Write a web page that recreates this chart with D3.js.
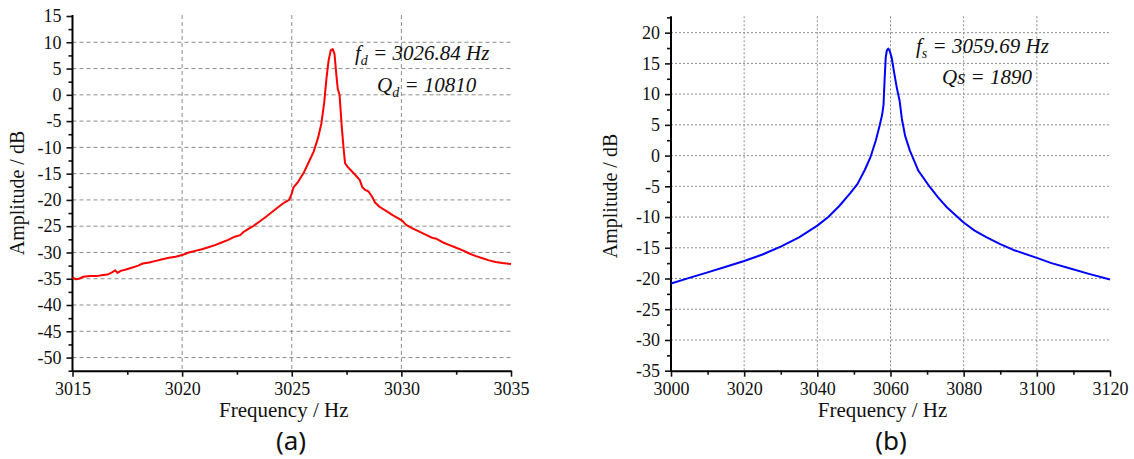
<!DOCTYPE html>
<html>
<head>
<meta charset="utf-8">
<script src="https://cdn.jsdelivr.net/npm/d3@7"></script>
<style>
  body { margin: 0; background: #fff; }
  svg text { font-family: "Liberation Serif", "Times New Roman", serif; fill: #111; }
</style>
</head>
<body>
<svg id="chart" width="1134" height="459"></svg>
<script>
// (a) drive mode
const driveFreq = [3015.00, 3015.15, 3015.30, 3015.50, 3015.80, 3016.10, 3016.40, 3016.60, 3016.80, 3016.95,
  3017.05, 3017.20, 3017.40, 3017.70, 3018.00, 3018.20, 3018.50, 3018.80, 3019.10, 3019.40,
  3019.70, 3020.00, 3020.30, 3020.60, 3020.90, 3021.20, 3021.50, 3021.80, 3022.10, 3022.40,
  3022.65, 3022.80, 3022.95, 3023.20, 3023.50, 3023.80, 3024.10, 3024.40, 3024.70, 3024.88,
  3025.00, 3025.08, 3025.30, 3025.55, 3025.80, 3026.00, 3026.20, 3026.35, 3026.48, 3026.58,
  3026.68, 3026.78, 3026.87, 3026.95, 3027.03, 3027.10, 3027.18, 3027.28, 3027.36, 3027.43,
  3027.55, 3027.75, 3027.95, 3028.10, 3028.22, 3028.35, 3028.50, 3028.65, 3028.80, 3029.00,
  3029.30, 3029.60, 3029.90, 3030.05, 3030.20, 3030.50, 3030.80, 3031.10, 3031.40, 3031.60,
  3031.90, 3032.20, 3032.50, 3032.80, 3033.10, 3033.40, 3033.70, 3034.00, 3034.30, 3034.60,
  3034.80, 3035.00];
const driveAmp = [-34.8, -35.1, -35.0, -34.6, -34.5, -34.5, -34.3, -34.2, -33.8, -33.4,
  -33.9, -33.5, -33.3, -32.9, -32.5, -32.1, -31.9, -31.6, -31.3, -31.0,
  -30.8, -30.5, -30.0, -29.7, -29.4, -29.0, -28.6, -28.1, -27.6, -27.0,
  -26.7, -26.1, -25.7, -25.1, -24.2, -23.3, -22.3, -21.3, -20.4, -20.0,
  -18.8, -17.6, -16.5, -14.8, -12.6, -10.8, -8.2, -5.5, -1.5, 3.0,
  6.5, 8.5, 8.7, 7.8, 4.0, 1.1, 0.0, -6.0, -10.0, -13.0,
  -13.7, -14.6, -15.5, -16.2, -17.6, -18.1, -18.4, -19.3, -20.5, -21.3,
  -22.1, -22.9, -23.6, -24.0, -24.7, -25.4, -26.0, -26.6, -27.2, -27.4,
  -28.1, -28.6, -29.1, -29.6, -30.2, -30.7, -31.1, -31.5, -31.8, -32.0,
  -32.1, -32.2];

// (b) sense mode
const senseFreq = [3000, 3005, 3010, 3015, 3020, 3025, 3030, 3035, 3040, 3043,
  3046, 3049, 3051, 3053, 3054.5, 3056, 3057, 3057.7, 3058.1, 3058.4,
  3058.7, 3059.0, 3059.4, 3059.8, 3060.3, 3061, 3061.7, 3062.5, 3063.1, 3064,
  3065.3, 3067.6, 3070.8, 3073, 3075.4, 3079.9, 3083, 3086.3, 3090, 3093.6,
  3100, 3104, 3108.2, 3114, 3120];
const senseAmp = [-20.8, -19.9, -19.0, -18.1, -17.15, -16.1, -14.8, -13.3, -11.4, -10.0,
  -8.2, -6.1, -4.6, -2.3, -0.3, 2.5, 4.8, 6.6, 8.3, 12.5,
  16.0, 17.1, 17.4, 17.0, 16.0, 13.5, 11.1, 8.9, 6.0, 3.2,
  0.8, -2.45, -5.15, -6.8, -8.4, -10.85, -12.2, -13.3, -14.4, -15.35,
  -16.65, -17.5, -18.2, -19.2, -20.15];

const xTicksA = [3015, 3020, 3025, 3030, 3035];
const yTicksA = [15, 10, 5, 0, -5, -10, -15, -20, -25, -30, -35, -40, -45, -50];
const xTicksB = [3000, 3020, 3040, 3060, 3080, 3100, 3120];
const yTicksB = [20, 15, 10, 5, 0, -5, -10, -15, -20, -25, -30, -35];

const svg = d3.select('#chart');
const serif = '"Liberation Serif", "Times New Roman", serif';

function drawPanel(p) {
  const x = d3.scaleLinear().domain(p.xDomain).range([p.left, p.right]);
  const y = d3.scaleLinear().domain(p.yDomain).range([p.bottom, p.top]);
  const g = svg.append('g');

  // grid
  g.selectAll('.vg').data(p.xTicks.slice(1, -1)).join('line')
    .attr('x1', d => x(d)).attr('x2', d => x(d))
    .attr('y1', p.top - 1).attr('y2', p.bottom)
    .attr('stroke', '#8c8c8c').attr('stroke-width', 1)
    .attr('stroke-dasharray', p.dash);
  g.selectAll('.hg').data(p.yTicks.filter(d => d < p.yDomain[1] - 1 && d > p.yDomain[0]))
    .join('line')
    .attr('x1', p.left).attr('x2', p.right)
    .attr('y1', d => y(d)).attr('y2', d => y(d))
    .attr('stroke', '#8c8c8c').attr('stroke-width', 1)
    .attr('stroke-dasharray', p.dash);

  // minor ticks
  g.append('g').attr('transform', `translate(0,${p.bottom})`)
    .call(d3.axisBottom(x).tickValues(p.xMinor).tickSize(4).tickFormat(''))
    .call(a => a.select('.domain').remove());
  g.append('g').attr('transform', `translate(${p.left},0)`)
    .call(d3.axisLeft(y).tickValues(p.yMinor).tickSize(4).tickFormat(''))
    .call(a => a.select('.domain').remove());

  // major axes
  const ax = g.append('g').attr('transform', `translate(0,${p.bottom})`)
    .call(d3.axisBottom(x).tickValues(p.xTicks).tickFormat(d => String(d))
      .tickSize(6).tickPadding(6).tickSizeOuter(0));
  const ay = g.append('g').attr('transform', `translate(${p.left},0)`)
    .call(d3.axisLeft(y).tickValues(p.yTicks).tickFormat(d => String(d))
      .tickSize(6).tickPadding(5).tickSizeOuter(0));
  [ax, ay].forEach(a => {
    a.attr('font-family', serif).attr('font-size', 18);
    a.selectAll('text').style('font-family', serif).style('font-size', '18px').attr('fill', '#111');
    a.select('.domain').attr('stroke-width', 2);
  });
  g.selectAll('.tick line').attr('stroke', '#111').attr('stroke-width', 1.6);
  ay.select('.domain').attr('d', `M0,${p.bottom + 1}V${p.top - 1}`);

  // curve
  const line = d3.line().x(d => x(d[0])).y(d => y(d[1]));
  g.append('path')
    .datum(d3.zip(p.freq, p.amp))
    .attr('fill', 'none')
    .attr('stroke', p.color)
    .attr('stroke-width', 2)
    .attr('stroke-linejoin', 'round')
    .attr('d', line);

  // titles
  g.append('text').attr('x', (p.left + p.right) / 2 - 8).attr('y', p.bottom + 46)
    .attr('text-anchor', 'middle').style('font-size', '21px').text('Frequency / Hz');
  g.append('text').attr('transform', `translate(${p.yTitleX},${p.yTitleY}) rotate(-90)`)
    .attr('text-anchor', 'middle').style('font-size', '20px').text('Amplitude / dB');
  g.append('text').attr('x', p.labelX).attr('y', 450)
    .attr('text-anchor', 'middle')
    .style('font-family', '"Noto Sans", sans-serif').style('font-size', '26px')
    .text(p.label);

  // annotation
  const t1 = g.append('text').attr('x', p.noteX1).attr('y', p.noteY1)
    .style('font-size', '21px').style('font-style', 'italic');
  t1.append('tspan').text('f');
  t1.append('tspan').attr('dy', 5).style('font-size', '14px').text(p.sub);
  t1.append('tspan').attr('dy', -5).text(' = ' + p.note1);
  const t2 = g.append('text').attr('x', p.noteX2).attr('y', p.noteY2)
    .style('font-size', '21px').style('font-style', 'italic');
  if (p.sub2) {
    t2.append('tspan').text('Q');
    t2.append('tspan').attr('dy', 5).style('font-size', '14px').text(p.sub2);
    t2.append('tspan').attr('dy', -5).text(' = ' + p.note2);
  } else {
    t2.text(p.note2);
  }
}

drawPanel({
  xDomain: [3015, 3035], yDomain: [-52.5, 15],
  left: 72.5, right: 511, top: 16, bottom: 370.7,
  xTicks: xTicksA, yTicks: yTicksA,
  xMinor: d3.range(3017.5, 3035, 5), yMinor: d3.range(12.5, -53, -5),
  dash: '4,3', freq: driveFreq, amp: driveAmp, color: '#ff0000',
  yTitleX: 24, yTitleY: 193, labelX: 291, label: '(a)',
  noteX1: 355, noteY1: 60, sub: 'd', note1: '3026.84 Hz',
  noteX2: 377, noteY2: 92, sub2: 'd', note2: '10810'
});

drawPanel({
  xDomain: [3000, 3120], yDomain: [-35, 22.5],
  left: 671, right: 1110, top: 17.3, bottom: 370.7,
  xTicks: xTicksB, yTicks: yTicksB,
  xMinor: d3.range(3010, 3120, 20), yMinor: d3.range(22.5, -35, -5),
  dash: '2,2', freq: senseFreq, amp: senseAmp, color: '#0000ff',
  yTitleX: 617, yTitleY: 196, labelX: 891, label: '(b)',
  noteX1: 916, noteY1: 53, sub: 's', note1: '3059.69 Hz',
  noteX2: 942, noteY2: 84, sub2: null, note2: 'Qs = 1890'
});
</script>
</body>
</html>
